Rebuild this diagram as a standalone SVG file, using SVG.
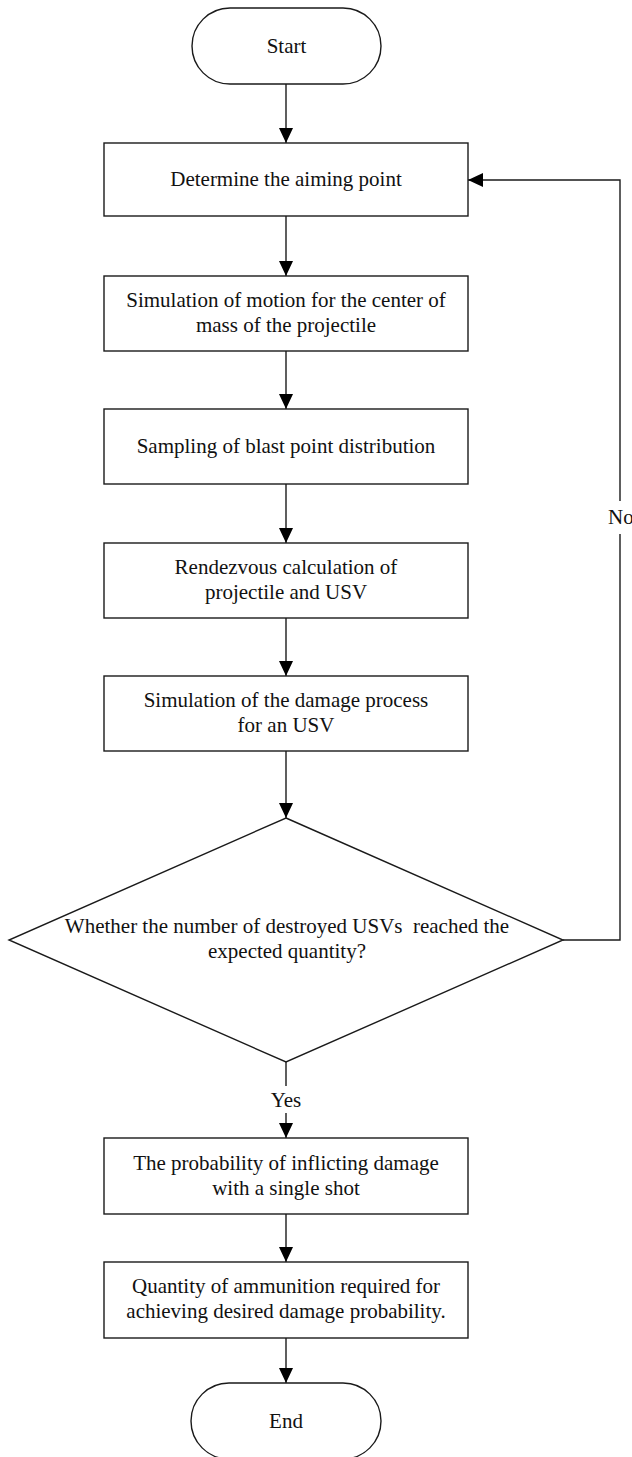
<svg xmlns="http://www.w3.org/2000/svg" width="632" height="1457" viewBox="0 0 632 1457">
<style>
.box{fill:#fff;stroke:#1a1a1a;stroke-width:1.4}
.t{font-family:"Liberation Serif","Times New Roman",serif;font-size:21px;fill:#111;text-anchor:middle;white-space:pre}
.c{fill:none;stroke:#1a1a1a;stroke-width:1.4}
</style>
<defs>
<marker id="ah" markerUnits="userSpaceOnUse" markerWidth="15" markerHeight="14" refX="15" refY="7" orient="auto">
<path d="M0,0 L15,7 L0,14 Z" fill="#000"/>
</marker>
</defs>
<rect width="632" height="1457" fill="#fff"/>
<g id="connectors">
<path class="c" d="M286,84 V143" marker-end="url(#ah)"/>
<path class="c" d="M286,216 V276" marker-end="url(#ah)"/>
<path class="c" d="M286,351 V409" marker-end="url(#ah)"/>
<path class="c" d="M286,484 V543" marker-end="url(#ah)"/>
<path class="c" d="M286,618 V676" marker-end="url(#ah)"/>
<path class="c" d="M286,751 V818" marker-end="url(#ah)"/>
<path class="c" d="M286,1062 V1138" marker-end="url(#ah)"/>
<path class="c" d="M286,1214 V1262" marker-end="url(#ah)"/>
<path class="c" d="M286,1338 V1383" marker-end="url(#ah)"/>
<path class="c" d="M563,940 H620 V180 H468" marker-end="url(#ah)"/>
<rect x="270" y="1086" width="32" height="27" fill="#fff"/>
<text class="t" x="286" y="1107">Yes</text>
<rect x="606" y="501" width="26" height="33" fill="#fff"/>
<text class="t" x="608" y="524" style="text-anchor:start">No</text>
</g>
<g id="start">
<rect class="box" x="192" y="8" width="189" height="76" rx="38" ry="38"/>
<text class="t" x="286.5" y="53">Start</text>
</g>
<g id="aim">
<rect class="box" x="104" y="143" width="364" height="73"/>
<text class="t" x="286" y="186">Determine the aiming point</text>
</g>
<g id="motion">
<rect class="box" x="104" y="276" width="364" height="75"/>
<text class="t" x="286" y="307">Simulation of motion for the center of</text>
<text class="t" x="286" y="332">mass of the projectile</text>
</g>
<g id="sampling">
<rect class="box" x="104" y="409" width="364" height="75"/>
<text class="t" x="286" y="453">Sampling of blast point distribution</text>
</g>
<g id="rendezvous">
<rect class="box" x="104" y="543" width="364" height="75"/>
<text class="t" x="286" y="574">Rendezvous calculation of</text>
<text class="t" x="286" y="599">projectile and USV</text>
</g>
<g id="damage">
<rect class="box" x="104" y="676" width="364" height="75"/>
<text class="t" x="286" y="707">Simulation of the damage process</text>
<text class="t" x="286" y="732">for an USV</text>
</g>
<g id="decision">
<polygon class="box" points="286,818 563,940 286,1062 9,940"/>
<text class="t" x="287" y="933">Whether the number of destroyed USVs  reached the</text>
<text class="t" x="287" y="958">expected quantity?</text>
</g>
<g id="probability">
<rect class="box" x="104" y="1138" width="364" height="76"/>
<text class="t" x="286" y="1170">The probability of inflicting damage</text>
<text class="t" x="286" y="1195">with a single shot</text>
</g>
<g id="quantity">
<rect class="box" x="104" y="1262" width="364" height="76"/>
<text class="t" x="286" y="1293">Quantity of ammunition required for</text>
<text class="t" x="286" y="1318">achieving desired damage probability.</text>
</g>
<g id="end">
<rect class="box" x="191" y="1383" width="190" height="76" rx="38" ry="38"/>
<text class="t" x="286" y="1428">End</text>
</g>
</svg>
